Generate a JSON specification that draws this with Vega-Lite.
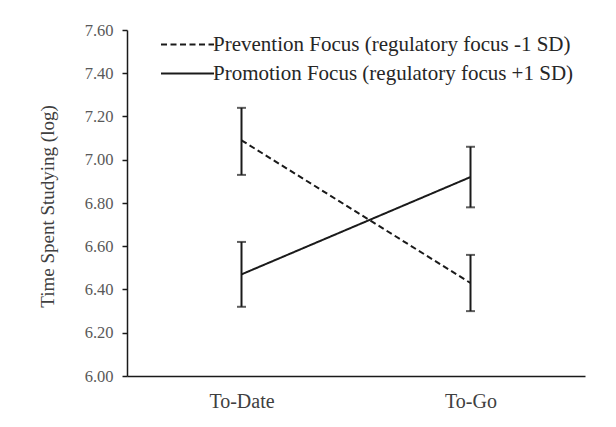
{
  "$schema": "https://vega.github.io/schema/vega-lite/v6.json",
  "width": 458,
  "height": 346,
  "autosize": {"type": "none"},
  "padding": {"left": 127, "top": 30, "right": 31, "bottom": 51},
  "background": "white",
  "config": {
    "view": {"stroke": null},
    "font": "Liberation Serif"
  },
  "data": {
    "values": [
      {"focus": "Prevention Focus (regulatory focus -1 SD)", "period": "To-Date", "mean": 7.09, "lo": 6.93, "hi": 7.24},
      {"focus": "Prevention Focus (regulatory focus -1 SD)", "period": "To-Go", "mean": 6.43, "lo": 6.30, "hi": 6.56},
      {"focus": "Promotion Focus (regulatory focus +1 SD)", "period": "To-Date", "mean": 6.47, "lo": 6.32, "hi": 6.62},
      {"focus": "Promotion Focus (regulatory focus +1 SD)", "period": "To-Go", "mean": 6.92, "lo": 6.78, "hi": 7.06}
    ]
  },
  "layer": [
    {
      "mark": {"type": "line", "color": "#1a1a1a", "strokeWidth": 2},
      "encoding": {
        "x": {
          "field": "period",
          "type": "nominal",
          "sort": ["To-Date", "To-Go"],
          "scale": {"type": "point", "padding": 0.5},
          "axis": {
            "title": null,
            "ticks": false,
            "labelAngle": 0,
            "labelFont": "Liberation Serif",
            "labelFontSize": 20,
            "labelColor": "#404040",
            "labelPadding": 15,
            "domainColor": "#1a1a1a",
            "domainWidth": 1.5
          }
        },
        "y": {
          "field": "mean",
          "type": "quantitative",
          "title": "Time Spent Studying (log)",
          "scale": {"domain": [6, 7.6], "nice": false, "zero": false},
          "axis": {
            "values": [6, 6.2, 6.4, 6.6, 6.8, 7, 7.2, 7.4, 7.6],
            "format": ".2f",
            "grid": false,
            "domainColor": "#1a1a1a",
            "domainWidth": 1.5,
            "tickColor": "#1a1a1a",
            "tickWidth": 1.5,
            "tickSize": 5,
            "labelFont": "Liberation Serif",
            "labelFontSize": 16.5,
            "labelColor": "#595959",
            "labelPadding": 9,
            "titleFont": "Liberation Serif",
            "titleFontSize": 19,
            "titleFontWeight": "normal",
            "titleColor": "#404040",
            "titleX": -80,
            "titleY": 176,
            "titleBaseline": "middle"
          }
        },
        "strokeDash": {
          "field": "focus",
          "type": "nominal",
          "scale": {
            "domain": ["Prevention Focus (regulatory focus -1 SD)", "Promotion Focus (regulatory focus +1 SD)"],
            "range": [[6, 3.5], [1, 0]]
          },
          "legend": {
            "title": null,
            "orient": "none",
            "legendX": 46,
            "legendY": 0,
            "symbolType": "M-2,0H2",
            "symbolSize": 702,
            "symbolStrokeWidth": 2,
            "symbolStrokeColor": "#1a1a1a",
            "symbolFillColor": "transparent",
            "labelFont": "Liberation Serif",
            "labelFontSize": 21,
            "labelColor": "#262626",
            "labelOffset": 11,
            "labelLimit": 0,
            "rowPadding": 4
          }
        }
      }
    },
    {
      "mark": {
        "type": "errorbar",
        "color": "#1a1a1a",
        "ticks": {"size": 9, "thickness": 2},
        "rule": {"strokeWidth": 2}
      },
      "encoding": {
        "x": {"field": "period", "type": "nominal", "sort": ["To-Date", "To-Go"]},
        "y": {"field": "lo", "type": "quantitative", "title": "Time Spent Studying (log)"},
        "y2": {"field": "hi"},
        "detail": {"field": "focus"}
      }
    }
  ]
}
